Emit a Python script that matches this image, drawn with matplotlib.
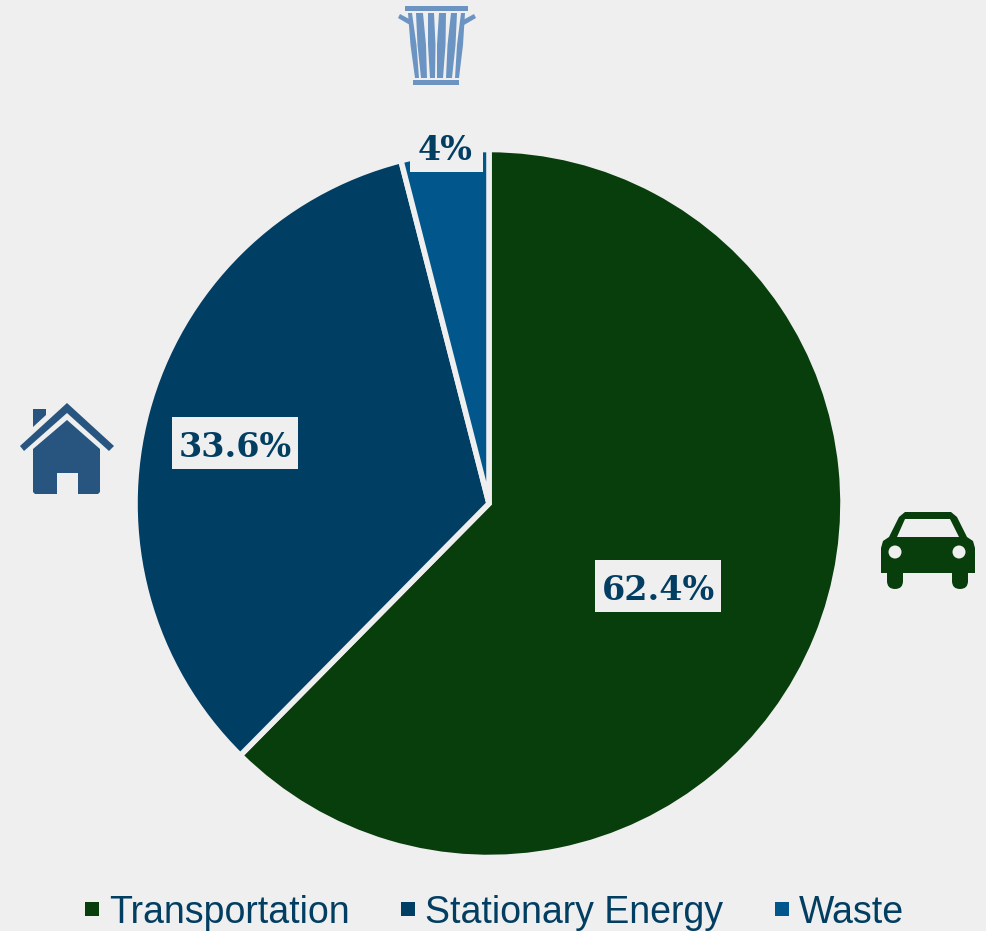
import matplotlib
matplotlib.use("Agg")
import matplotlib.pyplot as plt
from matplotlib.patches import Polygon, Circle, Rectangle, FancyBboxPatch

categories = ["Transportation", "Stationary Energy", "Waste"]
values = [62.4, 33.6, 4.0]
labels = ["62.4%", "33.6%", "4%"]
colors = ["#083D0C", "#013E63", "#01578C"]
icon_colors = ["#083D0C", "#27557F", "#6C94C2"]
bg = "#EFEFEF"
text_color = "#023E62"

fig = plt.figure(figsize=(9.87, 9.31), dpi=100, facecolor=bg)
ax = fig.add_axes([0, 0, 1, 1])
ax.set_xlim(0, 987)
ax.set_ylim(931, 0)
ax.axis("off")
ax.set_aspect("equal")

# y-axis is inverted, so counterclock=True runs clockwise on screen; start at the top
wedges, _ = ax.pie(values, colors=colors, center=(489, 503.5), radius=354,
                   startangle=-90, counterclock=True,
                   wedgeprops=dict(edgecolor=bg, linewidth=4), frame=False)
ax.set_xlim(0, 987)
ax.set_ylim(931, 0)

label_pos = [(658, 600), (235, 457), (445, 160)]
label_boxes = [(595, 560, 126, 52), (172, 417, 126, 52), (410, 120, 73, 52)]
label_font = dict(family="DejaVu Serif", fontweight="bold", fontsize=24, color=text_color)
for s, (x, y), (bx, by, bw, bh) in zip(labels, label_pos, label_boxes):
    ax.add_patch(Rectangle((bx, by), bw, bh, facecolor=bg, edgecolor="none", zorder=4))
    ax.text(x, y, s, ha="center", va="baseline", zorder=5, **label_font)

def poly(pts, color, z=6):
    ax.add_patch(Polygon(pts, closed=True, facecolor=color, edgecolor="none", zorder=z))

# house icon
hc = icon_colors[1]
poly([(33, 427), (33, 409), (46, 409), (46, 415)], hc)
poly([(20, 446), (67, 403), (114, 446), (109, 451), (67, 413), (24, 451)], hc)
poly([(33, 449), (67, 420), (100, 449), (100, 492), (98, 494), (78, 494), (78, 473),
      (57, 473), (57, 494), (35, 494), (33, 492)], hc)

# car icon
cc = icon_colors[0]
poly([(881, 548), (883, 541), (889, 537), (899, 517), (905, 512), (951, 512), (957, 517),
      (967, 537), (973, 541), (975, 548), (975, 573), (881, 573)], cc)
poly([(897, 537), (905, 519), (950, 519), (959, 537)], bg, z=7)
for x0 in (887, 952):
    ax.add_patch(FancyBboxPatch((x0, 565), 16, 24, boxstyle="round,pad=0,rounding_size=8",
                                facecolor=cc, edgecolor="none", zorder=6))
ax.add_patch(Circle((895, 552), 6.5, facecolor=bg, edgecolor="none", zorder=7))
ax.add_patch(Circle((959, 552), 6.5, facecolor=bg, edgecolor="none", zorder=7))

# trash icon
tc = icon_colors[2]
ax.add_patch(Rectangle((405, 6), 63, 5, facecolor=tc, edgecolor="none", zorder=6))
ax.add_patch(Rectangle((413, 80), 46, 5, facecolor=tc, edgecolor="none", zorder=6))
poly([(398, 18), (400, 14), (411, 20), (410, 25)], tc)
poly([(476, 18), (474, 14), (463, 20), (464, 25)], tc)
for top_l, top_r, bot_l, bot_r in [(408, 412, 415, 419), (416, 423, 421, 427),
                                   (428, 434, 430, 435), (439, 446, 437, 443),
                                   (451, 457, 446, 452), (461, 465, 455, 459)]:
    poly([(top_l, 13), (top_r, 13), ((top_r + bot_r) / 2 + 1, 45), (bot_r, 78), (bot_l, 78),
          ((top_l + bot_l) / 2 - 1, 45)], tc)

leg = ax.legend(wedges, categories, ncol=3, loc="lower center", bbox_to_anchor=(494.5, 931),
                bbox_transform=ax.transData, frameon=False,
                prop=dict(family="Liberation Sans", size=27), labelcolor=text_color,
                handlelength=0.37, handleheight=0.197, handletextpad=0.27,
                columnspacing=1.38, borderaxespad=0, borderpad=0)
for h in leg.legend_handles:
    h.set_edgecolor("none")

fig.savefig("out.png", dpi=100, facecolor=bg)
